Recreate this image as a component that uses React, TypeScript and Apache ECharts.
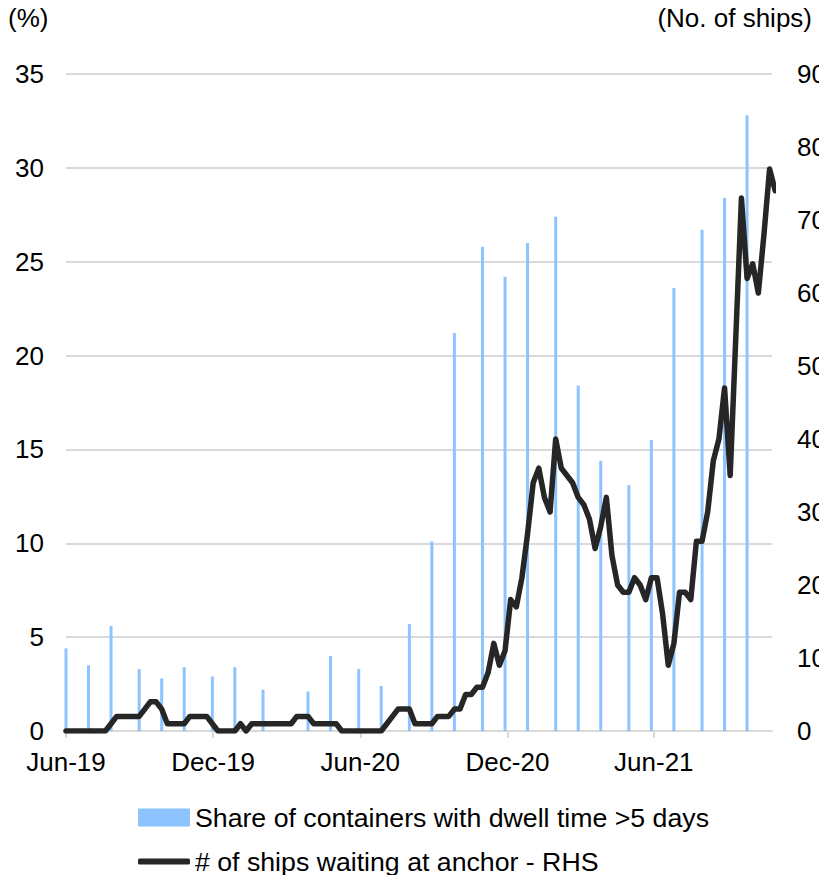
import React, { useEffect, useRef } from "react";
import * as echarts from "echarts";

// Share of containers with dwell time > 5 days (%), sampled at month end
const shareDates = [
  "2019-06-01", "2019-06-29", "2019-07-27", "2019-08-31", "2019-09-28", "2019-10-26",
  "2019-11-30", "2019-12-28", "2020-02-01", "2020-03-28", "2020-04-25", "2020-05-30",
  "2020-06-27", "2020-08-01", "2020-08-29", "2020-09-26", "2020-10-31", "2020-11-28",
  "2020-12-26", "2021-01-30", "2021-02-27", "2021-03-27", "2021-05-01", "2021-05-29",
  "2021-06-26", "2021-07-31", "2021-08-28", "2021-09-25",
];
const shareValues = [
  4.4, 3.5, 5.6, 3.3, 2.8, 3.4,
  2.9, 3.4, 2.2, 2.1, 4.0, 3.3,
  2.4, 5.7, 10.1, 21.2, 25.8, 24.2,
  26.0, 27.4, 18.4, 14.4, 13.1, 15.5,
  23.6, 26.7, 28.4, 32.8,
];

// Number of ships waiting at anchor, weekly from the first Saturday of Jun-19
const shipsStart = [2019, 5, 1];
const shipsValues = [
  0, 0, 0, 0, 0, 0, 0, 0, 1, 2, 2, 2, 2, 2, 3, 4, 4, 3, 1, 1, 1, 1, 2, 2, 2, 2, 1,
  0, 0, 0, 0, 1, 0, 1, 1, 1, 1, 1, 1, 1, 1, 2, 2, 2, 1, 1, 1, 1, 1, 0, 0, 0, 0, 0,
  0, 0, 0, 1, 2, 3, 3, 3, 1, 1, 1, 1, 2, 2, 2, 3, 3, 5, 5, 6, 6, 8, 12, 9, 11, 18,
  17, 21, 27, 34, 36, 32, 30, 40, 36, 35, 34, 32, 31, 29, 25, 28, 32, 24, 20, 19,
  19, 21, 20, 18, 21, 21, 16, 9, 12, 19, 19, 18, 26, 26, 30, 37, 40, 47, 35, 54,
  73, 62, 64, 60, 68, 77, 74,
];

// x-axis labels every six months
const tickMonths = [
  [2019, 5], [2019, 11], [2020, 5], [2020, 11], [2021, 5],
];
const monthNames = ["Jan", "Feb", "Mar", "Apr", "May", "Jun", "Jul", "Aug", "Sep", "Oct", "Nov", "Dec"];

const axisStart = [2019, 5, 1];
const axisEnd = [2021, 9, 26];

const SHARE_NAME = "Share of containers with dwell time >5 days";
const SHIPS_NAME = "# of ships waiting at anchor - RHS";

const FONT = "'Liberation Sans', Arial, sans-serif";
const FS = 26;
const LEGEND_FS = 26.7;

export default function App() {
  const ref = useRef<HTMLDivElement>(null);

  useEffect(() => {
    if (!ref.current) return;
    document.body.style.margin = "0";
    const chart = echarts.init(ref.current, null, { renderer: "svg" });

    const shipsData = shipsValues.map((v, k) => [
      new Date(shipsStart[0], shipsStart[1], shipsStart[2] + 7 * k).getTime(),
      v,
    ]);
    const shareData = shareDates.map((d, i) => {
      const [y, m, day] = d.split("-").map(Number);
      return [new Date(y, m - 1, day).getTime(), shareValues[i]];
    });
    const ticks = tickMonths.map(([y, m]) => new Date(y, m, 1).getTime());

    const legendText = { fontFamily: FONT, fontSize: LEGEND_FS, color: "#000" };

    chart.setOption({
      animation: false,
      grid: {
        left: 66,
        right: 47,
        top: 74,
        bottom: 144,
        containLabel: false,
        outerBoundsMode: "none",
      },
      legend: [
        {
          left: 138,
          top: 804,
          padding: 0,
          itemWidth: 52,
          itemHeight: 18,
          itemGap: 0,
          textStyle: legendText,
          data: [{ name: SHARE_NAME, icon: "rect" }],
        },
        {
          left: 138,
          top: 848,
          padding: 0,
          itemWidth: 52,
          itemHeight: 6,
          itemGap: 0,
          textStyle: legendText,
          data: [{ name: SHIPS_NAME, icon: "roundRect" }],
        },
      ],
      graphic: [
        {
          type: "text",
          left: 8,
          top: 5,
          style: { text: "(%)", font: `${FS}px ${FONT}`, fill: "#000" },
        },
        {
          type: "text",
          right: 7,
          top: 5,
          style: { text: "(No. of ships)", font: `${FS}px ${FONT}`, fill: "#000" },
        },
      ],
      xAxis: {
        type: "value",
        min: new Date(axisStart[0], axisStart[1], axisStart[2]).getTime(),
        max: new Date(axisEnd[0], axisEnd[1], axisEnd[2]).getTime(),
        axisLine: { onZero: false, lineStyle: { color: "#d9d9d9", width: 2 } },
        axisTick: {
          show: true,
          customValues: ticks,
          length: 7,
          lineStyle: { color: "#d9d9d9", width: 2 },
        },
        axisLabel: {
          customValues: ticks,
          margin: 18,
          fontFamily: FONT,
          fontSize: FS,
          color: "#000",
          formatter: (v: number) => {
            const d = new Date(v);
            return `${monthNames[d.getMonth()]}-${String(d.getFullYear()).slice(2)}`;
          },
        },
        splitLine: { show: false },
      },
      yAxis: [
        {
          type: "value",
          min: 0,
          max: 35,
          interval: 5,
          axisLine: { show: false },
          axisTick: { show: false },
          axisLabel: { margin: 22, fontFamily: FONT, fontSize: FS, color: "#000" },
          splitLine: { lineStyle: { color: "#d9d9d9", width: 2 } },
        },
        {
          type: "value",
          min: 0,
          max: 90,
          interval: 10,
          position: "right",
          axisLine: { show: false },
          axisTick: { show: false },
          axisLabel: { margin: 25, fontFamily: FONT, fontSize: FS, color: "#000" },
          splitLine: { show: false },
        },
      ],
      series: [
        {
          name: SHARE_NAME,
          type: "bar",
          yAxisIndex: 0,
          barWidth: 3,
          itemStyle: { color: "#8dc3ff" },
          data: shareData,
        },
        {
          name: SHIPS_NAME,
          type: "line",
          yAxisIndex: 1,
          symbol: "none",
          showSymbol: false,
          clip: true,
          lineStyle: { color: "#262626", width: 5.5, join: "round", cap: "round" },
          itemStyle: { color: "#262626" },
          data: shipsData,
        },
      ],
    });

    return () => chart.dispose();
  }, []);

  return <div ref={ref} style={{ width: 819, height: 875 }} />;
}
